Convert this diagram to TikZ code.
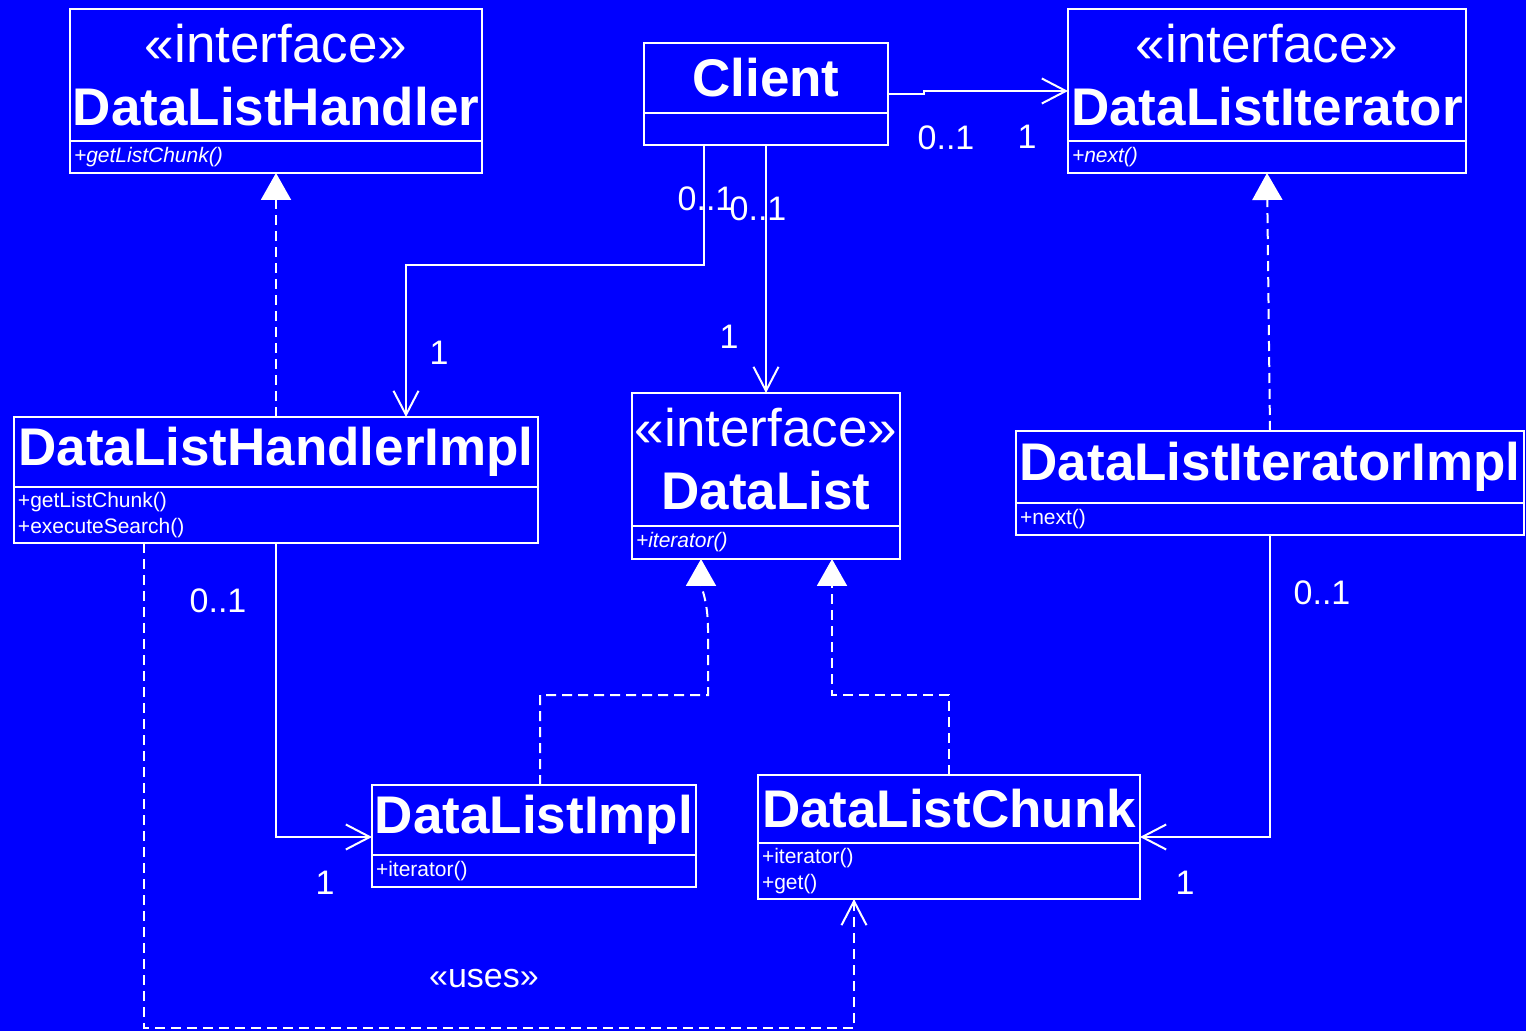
\documentclass[tikz,border=0pt]{standalone}
\usepackage{fontspec}
\setmainfont{Liberation Sans}
\usetikzlibrary{positioning, arrows.meta, calc}
\definecolor{umlblue}{RGB}{0,0,255}

\begin{document}
\begin{tikzpicture}[
    x=0.5pt, y=-0.5pt,
    box/.style={rectangle, draw=white, line width=1pt, fill=umlblue, text=white, outer sep=0pt, inner sep=1pt, font=\fontsize{26.5}{31.5}\selectfont\bfseries},
    iface/.style={box, align=center, font=\fontsize{26.5}{31.5}\selectfont},
    ops/.style={rectangle, draw=white, line width=1pt, fill=umlblue, text=white, outer sep=0pt, inner xsep=2pt, inner ysep=0pt, align=left, font=\fontsize{10.5}{13}\selectfont},
    mult/.style={text=white, inner sep=0pt, font=\fontsize{17}{17}\selectfont},
    arrow/.style={draw=white, line width=1pt, -{Straight Barb[length=12pt, width=12.5pt]}},
    impl/.style={draw=white, line width=1pt, dash pattern=on 5pt off 3pt, -{Triangle[length=13.5pt, width=15pt, fill=white]}},
    dep/.style={draw=white, line width=1pt, dash pattern=on 5pt off 3pt, -{Straight Barb[length=12pt, width=12.5pt]}},
]

\fill[umlblue, use as bounding box] (0,0) rectangle (1526,1031);

%% NODES
    % interfaces
    \node[iface, minimum width=206pt, minimum height=66pt] (handler) at (276,75) {«interface»\\\textbf{DataListHandler}};
    \node[ops, text width=202pt, minimum height=16pt, below=0pt of handler] (handler_m) {\textit{+getListChunk()}};

    \node[iface, minimum width=199pt, minimum height=66pt] (iter) at (1267,75) {«interface»\\\textbf{DataListIterator}};
    \node[ops, text width=195pt, minimum height=16pt, below=0pt of iter] (iter_m) {\textit{+next()}};

    \node[iface, minimum width=134pt, minimum height=66.5pt] (dlist) at (766,459.5) {«interface»\\\textbf{DataList}};
    \node[ops, text width=130pt, minimum height=16.5pt, below=0pt of dlist] (dlist_m) {\textit{+iterator()}};

    % client
    \node[box, minimum width=122pt, minimum height=35pt] (client) at (766,78) {Client};
    \node[ops, text width=118pt, minimum height=16pt, below=0pt of client] (client_m) {};

    % implementations
    \node[box, minimum width=262pt, minimum height=35pt] (himpl) at (276,452) {DataListHandlerImpl};
    \node[ops, text width=258pt, minimum height=28pt, below=0pt of himpl] (himpl_m) {+getListChunk()\\+executeSearch()};

    \node[box, minimum width=254pt, minimum height=36pt] (iimpl) at (1270,467) {DataListIteratorImpl};
    \node[ops, text width=250pt, minimum height=16pt, below=0pt of iimpl] (iimpl_m) {+next()};

    \node[box, minimum width=162pt, minimum height=35pt] (limpl) at (534,820) {DataListImpl};
    \node[ops, text width=158pt, minimum height=16pt, below=0pt of limpl] (limpl_m) {+iterator()};

    \node[box, minimum width=191pt, minimum height=34pt] (chunk) at (949,809) {DataListChunk};
    \node[ops, text width=187pt, minimum height=28pt, below=0pt of chunk] (chunk_m) {+iterator()\\+get()};

%% CONNECTIONS
    % Client -> DataListIterator
    \draw[arrow] ([yshift=-8pt]client.east) -- ++(18pt,0pt) |- ([yshift=-8pt]iter.west);
    \node[mult] (m_ci_a) at (946,138) {0..1};
    \node[mult] (m_ci_b) at (1027,137) {1};

    % Client -> DataListHandlerImpl
    \draw[arrow] ([xshift=-31pt]client_m.south) -- ++(0pt,-60pt) -| ([xshift=65pt]himpl.north);
    \node[mult] (m_ch_a) at (706,199) {0..1};
    \node[mult] (m_ch_b) at (439,353) {1};

    % Client -> DataList
    \draw[arrow] (client_m.south) -- (dlist.north);
    \node[mult] (m_cd_a) at (758,209) {0..1};
    \node[mult] (m_cd_b) at (729,337) {1};

    % DataListHandlerImpl -> DataListHandler
    \draw[impl] (himpl.north) -- (handler_m.south);

    % DataListIteratorImpl -> DataListIterator
    \draw[impl] (iimpl.north) -- (iter_m.south);

    % DataListImpl -> DataList
    \draw[impl] ([xshift=3pt]limpl.north) -- ++(0pt,45pt) -| ([xshift=-29pt, yshift=-35pt]dlist_m.south)
        to[out=90, in=-90] ([xshift=-32.5pt]dlist_m.south);

    % DataListChunk -> DataList
    \draw[impl] (chunk.north) -- ++(0pt,40pt) -| ([xshift=33pt]dlist_m.south);

    % DataListHandlerImpl -> DataListImpl
    \draw[arrow] (himpl_m.south) |- ([yshift=-8.5pt]limpl.west);
    \node[mult] (m_hl_a) at (218,601) {0..1};
    \node[mult] (m_hl_b) at (325,883) {1};

    % DataListIteratorImpl -> DataListChunk
    \draw[arrow] (iimpl_m.south) |- ([yshift=-14pt]chunk.east);
    \node[mult] (m_ic_a) at (1322,593) {0..1};
    \node[mult] (m_ic_b) at (1185,883) {1};

    % DataListHandlerImpl uses DataListChunk
    \draw[dep] ([xshift=-66pt]himpl_m.south) -- ++(0pt,-242.5pt) -| ([xshift=-47.5pt]chunk_m.south);
    \node[mult] (uses_lbl) at (484,979) {«uses»};

\end{tikzpicture}
\end{document}
